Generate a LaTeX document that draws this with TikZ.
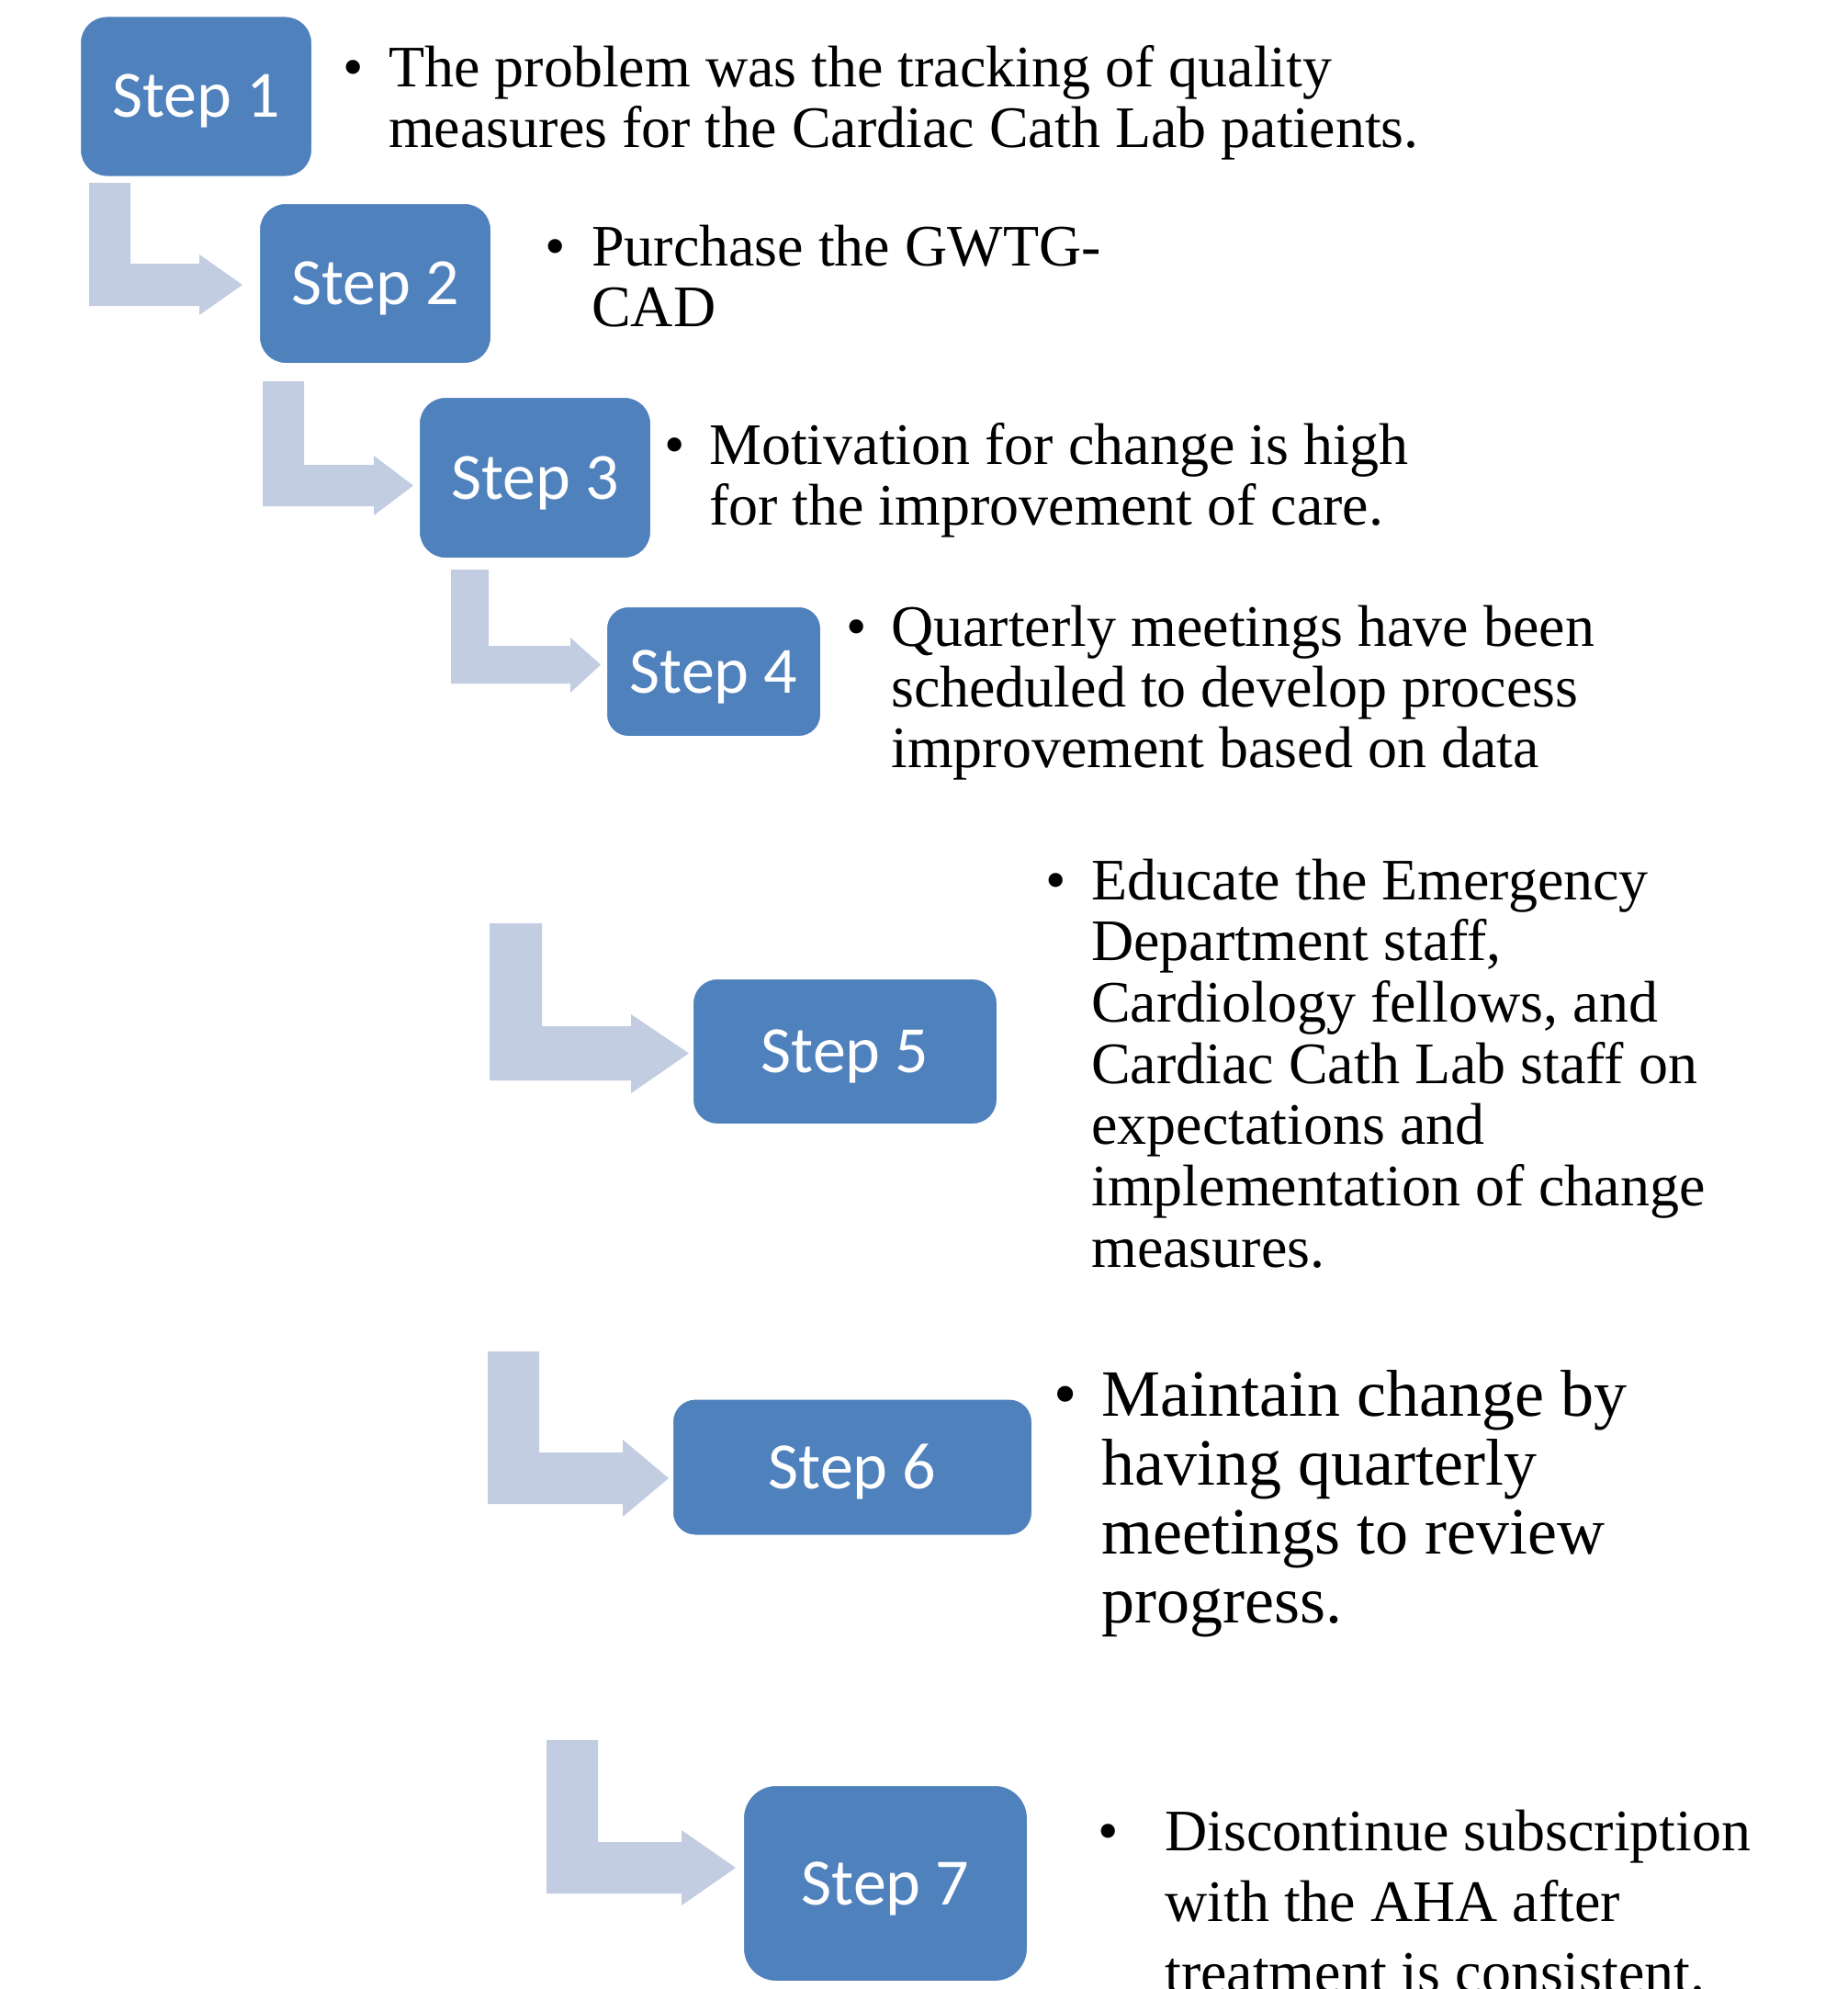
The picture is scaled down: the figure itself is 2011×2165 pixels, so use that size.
\documentclass[tikz,border=0pt]{standalone}
\usepackage{fontspec}
\setmainfont{Liberation Serif}
\newfontfamily\calibri{Carlito}
\definecolor{boxblue}{RGB}{79,129,189}
\definecolor{arrowblue}{RGB}{194,205,226}
\newcommand{\bblock}[2]{\begin{tabular}[t]{@{}l@{}l@{}}\makebox[#1][l]{\textbullet}&#2\end{tabular}}
\newcommand{\bentarr}[9]{\fill[arrowblue] (#1,#3) -- (#2,#3) -- (#2,#4) -- (#6,#4) -- (#6,#7) -- (#9,{(#4+#5)/2}) -- (#6,#8) -- (#6,#5) -- (#1,#5) -- cycle;}
\begin{document}
\begin{tikzpicture}[x=1pt,y=-1pt,
  stepbox/.style={rectangle, fill=boxblue, draw=white, line width=2pt,
    text=white, inner sep=0pt, text height=46pt, text depth=0pt,
    font=\calibri\fontsize{72}{86}\selectfont},
  bodytext/.style={anchor=base west, inner sep=0pt, font=\fontsize{64}{66}\selectfont}]
\useasboundingbox (0,0) rectangle (2011,2165);

% bent arrows
\bentarr{97}{142}{199}{287}{333}{217}{277}{343}{264}
\bentarr{286}{331}{415}{506}{551}{407}{496}{561}{450}
\bentarr{491}{532}{620}{703}{744}{621}{694}{754}{654}
\bentarr{533}{590}{1005}{1117}{1176}{687}{1104}{1190}{750}
\bentarr{531}{587}{1471}{1581}{1637}{678}{1567}{1651}{728}
\bentarr{595}{651}{1894}{2005}{2061}{742}{1992}{2074}{801}

% step boxes
\node[stepbox, minimum width=253pt, minimum height=175pt, rounded corners=29pt] (s1) at (213.5,105) {Step 1};
\node[stepbox, minimum width=253pt, minimum height=175pt, rounded corners=29pt] (s2) at (408.5,308.5) {Step 2};
\node[stepbox, minimum width=253pt, minimum height=176pt, rounded corners=29pt] (s3) at (582.5,520) {Step 3};
\node[stepbox, minimum width=234pt, minimum height=142pt, rounded corners=24pt] (s4) at (777,731) {Step 4};
\node[stepbox, minimum width=332pt, minimum height=159pt, rounded corners=27pt] (s5) at (920,1144.5) {Step 5};
\node[stepbox, minimum width=392pt, minimum height=149pt, rounded corners=25pt] (s6) at (928,1597) {Step 6};
\node[stepbox, minimum width=310pt, minimum height=214pt, rounded corners=36pt] (s7) at (964,2050) {Step 7};

% texts
\node[bodytext] (t1) at (373,95) {\bblock{50pt}{The problem was the tracking of quality\\&measures for the Cardiac Cath Lab patients.}};
\node[bodytext] (t2) at (593,289) {\bblock{51pt}{Purchase the GWTG-\\&CAD}};
\node[bodytext] (t3) at (723,505) {\bblock{49pt}{Motivation for change is high\\&for the improvement of care.}};
\node[bodytext] (t4) at (921,703) {\bblock{49pt}{Quarterly meetings have been\\&scheduled to develop process\\&improvement based on data}};
\node[bodytext, font=\fontsize{64}{66.7}\selectfont] (t5) at (1138,979) {\bblock{50pt}{Educate the Emergency\\&Department staff,\\&Cardiology fellows, and\\&Cardiac Cath Lab staff on\\&expectations and\\&implementation of change\\&measures.}};
\node[bodytext, font=\fontsize{72}{75}\selectfont] (t6) at (1147,1541) {\bblock{52pt}{Maintain change by\\&having quarterly\\&meetings to review\\&progress.}};
\node[bodytext, font=\fontsize{64}{77}\selectfont] (t7) at (1195,2014) {\bblock{73pt}{Discontinue subscription\\&with the AHA after\\&treatment is consistent.}};
\end{tikzpicture}
\end{document}
